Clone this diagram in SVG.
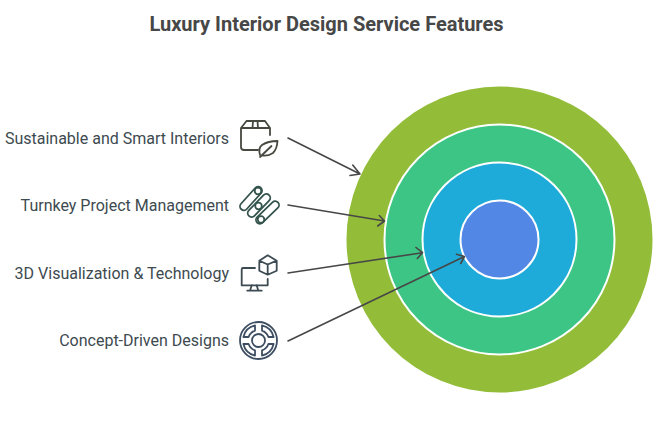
<svg xmlns="http://www.w3.org/2000/svg" width="665" height="427" viewBox="0 0 665 427">
<style>
.t{font-family:Roboto,"Liberation Sans",sans-serif;font-size:16px;fill:#3d4a4f;text-anchor:end}
.title{font-family:Roboto,"Liberation Sans",sans-serif;font-size:20px;font-weight:700;fill:#474747;text-anchor:middle}
.ring{stroke:#fff;stroke-width:2}
.i{fill:none;stroke-width:1.8;stroke-linecap:round;stroke-linejoin:round}
.c{fill:none;stroke:#474747;stroke-width:1.6;stroke-linecap:round;stroke-linejoin:round}
.knob{fill:#fff}
</style>
<defs>
<path id="q" d="M3.500 -15.100A15.500 15.500 0 0 1 15.100 -3.500L9.900 -3.500A10.500 10.500 0 0 0 3.500 -9.900Z"/>
<rect id="cap" x="-14.500" y="-3.900" width="29" height="7.800" rx="3.900"/>
</defs>
<rect width="665" height="427" fill="#fff"/>
<text class="title" x="326.500" y="31">Luxury Interior Design Service Features</text>
<g id="ring-outer"><circle cx="499.500" cy="239.500" r="153" fill="#93bc39"/></g>
<g id="ring-2"><circle class="ring" cx="499.500" cy="239.500" r="115" fill="#3dc585"/></g>
<g id="ring-3"><circle class="ring" cx="499.500" cy="239.500" r="77" fill="#1eabda"/></g>
<g id="ring-inner"><circle class="ring" cx="499.500" cy="239.500" r="39" fill="#5287e6"/></g>
<g id="connectors">
<path class="c" d="M288 138L360 174M352.700 165L360 174L350 175.500"/>
<path class="c" d="M288 205L384.500 221M379.300 215.500L384.500 221L377.700 226"/>
<path class="c" d="M288 273L422.500 252.700M416 247.500L422.500 252.700L417.300 258.500"/>
<path class="c" d="M288 341L464.500 256.500M456.500 254.300L464.500 256.500L460.700 263.500"/>
</g>
<g id="node-sustainable">
<text class="t" x="229" y="144">Sustainable and Smart Interiors</text>
<g class="i" stroke="#46493f">
<path d="M258 150H244Q241 150 241 147V128L246.500 121H265L270 128V135M241 128H270M253 121L252.500 128M257.500 121L258 128"/>
<path d="M260 155Q258 148 262 145Q268 141 277.500 141Q277 149 273 153Q267 157 260 155ZM260 157L271.500 146"/>
</g>
</g>
<g id="node-turnkey">
<text class="t" x="229" y="211">Turnkey Project Management</text>
<g class="i" stroke="#34534d">
<use href="#cap" transform="translate(251 198.500) rotate(-48)"/>
<use href="#cap" transform="translate(259 205.500) rotate(-46)"/>
<use href="#cap" transform="translate(267.500 212.500) rotate(-44)"/>
<circle class="knob" cx="258" cy="191" r="3.300"/><circle class="knob" cx="258.500" cy="206" r="3.300"/><circle class="knob" cx="261" cy="219.500" r="3.300"/>
</g>
</g>
<g id="node-3d">
<text class="t" x="229" y="279">3D Visualization &amp; Technology</text>
<g class="i" stroke="#3c4a52">
<path d="M255 268H243Q241.700 268 241.700 269.500V285.300H267.700V279"/>
<path d="M251.700 285.300L250 290.700M256.700 285.300L258.300 290.700M247.300 290.700H261.700"/>
<path d="M267.700 255.300L276.700 260.700V270.700L267.700 274.700L259.300 270.700V260.700ZM259.300 260.700L267.700 264.500L276.700 260.700M267.700 264.500V274.700"/>
</g>
</g>
<g id="node-concept">
<text class="t" x="229" y="346">Concept-Driven Designs</text>
<g class="i" stroke="#3e4e62" transform="translate(258.500 340.500)">
<circle r="18.500"/>
<circle r="6.500"/>
<use href="#q"/><use href="#q" transform="rotate(90)"/><use href="#q" transform="rotate(180)"/><use href="#q" transform="rotate(270)"/>
</g>
</g>
</svg>
